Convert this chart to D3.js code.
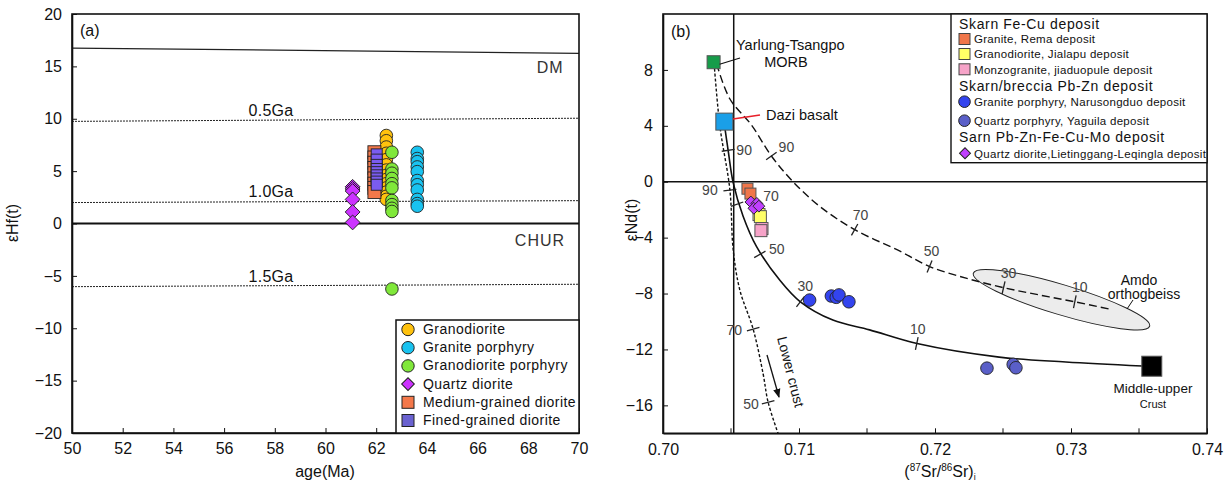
<!DOCTYPE html>
<html><head><meta charset="utf-8">
<script src="https://cdn.jsdelivr.net/npm/d3@7"></script>
<style>
body{margin:0;background:#fff}
text{font-family:"Liberation Sans",Arial,sans-serif;fill:#111}
</style>
</head><body>
<svg width="1230" height="487"></svg>
<script>
// ---------- panel (a): eHf(t) vs age ----------
var ageTicks = [50,52,54,56,58,60,62,64,66,68,70];
var hfTicks = [-20,-15,-10,-5,0,5,10,15,20];

var granodiorite = {age:62.4, hf:[8.4,7.9,7.3,6.7,6.1,5.6,5.1,4.6,4.2,3.8,3.4,3.0,2.6,2.3]};
var granitePorphyry = {age:63.62, hf:[6.8,6.2,5.9,5.4,4.95,4.1,3.7,3.2,2.3,1.9,1.65]};
var granodioritePorphyry = {age:62.62, hf:[6.8,5.2,4.8,4.3,3.8,3.4,2.2,1.8,1.45,1.15,-6.25]};
var quartzDiorite = {age:61.07, hf:[3.5,3.3,3.1,2.3,1.1,0.1]};
var mediumDiorite = {age:61.93, hf:[6.8,6.3,5.8,5.3,4.8,4.3,3.8,3.4,3.0]};
var fineDiorite = {age:62.02, hf:[6.6,6.1,5.6,5.2,4.9,4.6,4.3,4.0,3.7]};

var dmLine = [[50,16.75],[70,16.25]];
var ga05 = [[50,9.75],[70,10.05]];
var ga10 = [[50,2.0],[70,2.18]];
var ga15 = [[50,-6.03],[70,-5.8]];

// ---------- panel (b): eNd(t) vs (87Sr/86Sr)i ----------
var srTicks = [0.70,0.71,0.72,0.73,0.74];
var srMinor = [0.705,0.715,0.725,0.735];
var ndTicks = [-16,-12,-8,-4,0,4,8];

var morb = [0.70372, 8.55];
var dazi = [0.70451, 4.3];
var upperCrust = [0.73594, -13.2];

var rema = [[0.70621,-0.5],[0.70643,-0.85]];
var jialapu = [[0.70706,-2.35],[0.70716,-2.5]];
var jiaduopule = [[0.70728,-3.35],[0.7072,-3.5]];
var narusongduo = [[0.71078,-8.47],[0.71238,-8.18],[0.71274,-8.27],[0.71294,-8.1],[0.71367,-8.59]];
var yaguila = [[0.72382,-13.34],[0.72575,-13.07],[0.72595,-13.31]];
var lietinggang = [[0.70646,-1.45],[0.70690,-1.55],[0.70668,-1.9],[0.70705,-1.75]];

var curveSolid = [[0.7045,4.2],[0.70479,2.25],[0.70516,-0.07],[0.70589,-2.47],[0.70687,-4.63],
  [0.70858,-7.03],[0.7101,-8.59],[0.71249,-9.9],[0.71519,-10.6],[0.71868,-11.58],
  [0.72472,-12.55],[0.72962,-12.9],[0.73524,-13.19]];
var curveDotted = [[0.70376,8.44],[0.70418,4.0],[0.70492,-0.6],[0.70516,-4.87],[0.70565,-7.75],
  [0.70663,-10.55],[0.70736,-13.74],[0.70773,-15.78],[0.70846,-18.0]];
var curveDashed = [[0.70394,8.44],[0.70492,5.92],[0.70651,4.05],[0.70797,1.84],[0.70956,0],
  [0.71152,-1.76],[0.71409,-3.43],[0.71739,-4.95],[0.7196,-6.07],[0.72228,-6.9],
  [0.72504,-7.58],[0.72766,-8.1],[0.73028,-8.59],[0.73285,-9.12]];

var solidMarks = [[0.70479,2.25,"90"],[0.70545,-1.61,"70"],[0.70712,-5.2,"50"],[0.7101,-8.59,"30"],[0.71866,-11.58,"10"]];
var dottedMarks = [[0.70492,-0.6,"90"],[0.70663,-10.55,"70"],[0.70773,-15.78,"50"]];
var dashedMarks = [[0.70797,1.84,"90"],[0.71409,-3.43,"70"],[0.7196,-6.07,"50"],[0.72504,-7.58,"30"],[0.73028,-8.59,"10"]];

var amdo = [[0.72282,-6.55],[0.73578,-10.34]];
var verticalSr = 0.7052;

var svg = d3.select("svg");

// ===== panel (a)
var xa = d3.scaleLinear().domain([50,70]).range([72,579]);
var ya = d3.scaleLinear().domain([-20,20]).range([433,14]);
var ga = svg.append("g");

var lineA = d3.line().x(d => xa(d[0])).y(d => ya(d[1]));
ga.append("path").attr("d", lineA(dmLine)).attr("fill","none").attr("stroke","#222").attr("stroke-width",1.3);
[ga05, ga10, ga15].forEach(function(l) {
  ga.append("path").attr("d", lineA(l)).attr("fill","none").attr("stroke","#222")
    .attr("stroke-width",1).attr("stroke-dasharray","2,1");
});
ga.append("line").attr("x1",xa(50)).attr("x2",xa(70)).attr("y1",ya(0)).attr("y2",ya(0))
  .attr("stroke","#111").attr("stroke-width",2);

var labA = [["DM",68.86,14.4],["CHUR",68.46,-2.15],["0.5Ga",57.85,10.25],["1.0Ga",57.85,2.5],["1.5Ga",57.85,-5.6]];
labA.forEach(function(l) {
  ga.append("text").attr("x",xa(l[1])).attr("y",ya(l[2])).attr("text-anchor","middle")
    .attr("font-size",16).attr("letter-spacing", l[0].length < 5 ? 1 : 0.3)
    .style("fill", l[0].length < 5 ? "#333" : "#111").text(l[0]);
});

function circlesA(s, col) {
  ga.selectAll(null).data(s.hf).enter().append("circle")
    .attr("cx", xa(s.age)).attr("cy", d => ya(d)).attr("r",6.3)
    .attr("fill",col).attr("stroke","#222").attr("stroke-width",0.9);
}
function squaresA(s, col, sz) {
  ga.selectAll(null).data(s.hf).enter().append("rect")
    .attr("x", xa(s.age)-sz/2).attr("y", d => ya(d)-sz/2).attr("width",sz).attr("height",sz)
    .attr("fill",col).attr("stroke","#222").attr("stroke-width",0.9);
}
var diamond = d3.symbol().type(d3.symbolSquare).size(110);
circlesA(granodiorite, "#ffc20e");
circlesA(granodioritePorphyry, "#80e83a");
circlesA(granitePorphyry, "#19c3f0");
squaresA(mediumDiorite, "#f4784a", 13);
squaresA(fineDiorite, "#7a5cf0", 11);
ga.selectAll(null).data(quartzDiorite.hf).enter().append("path").attr("d", diamond)
  .attr("transform", d => "translate(" + xa(quartzDiorite.age) + "," + ya(d) + ") rotate(45)")
  .attr("fill","#cc33ff").attr("stroke","#222").attr("stroke-width",0.9);

// axes a
var axYa = d3.axisLeft(ya).tickValues(hfTicks).tickSizeInner(-5).tickSizeOuter(0).tickPadding(10);
var axXa = d3.axisBottom(xa).tickValues(ageTicks).tickSizeInner(-5).tickSizeOuter(0).tickPadding(10);
ga.append("g").attr("transform","translate(72,0)").call(axYa);
ga.append("g").attr("transform","translate(0,433)").call(axXa);
ga.append("rect").attr("x",72).attr("y",14).attr("width",507).attr("height",419)
  .attr("fill","none").attr("stroke","#111").attr("stroke-width",1.6);
ga.append("text").attr("x",80).attr("y",36).attr("font-size",16).text("(a)");
ga.append("text").attr("transform","translate(18,223) rotate(-90)").attr("text-anchor","middle")
  .attr("font-size",16).text("εHf(t)");
ga.append("text").attr("x",325).attr("y",477).attr("text-anchor","middle").attr("font-size",16).text("age(Ma)");

// legend a
var legA = [["Granodiorite","c","#ffc20e"],["Granite porphyry","c","#19c3f0"],["Granodiorite porphyry","c","#80e83a"],
  ["Quartz diorite","d","#cc33ff"],["Medium-grained diorite","s","#f4784a"],["Fined-grained diorite","s","#6a62d0"]];
var lg = ga.append("g");
lg.append("rect").attr("x",396).attr("y",320).attr("width",183).attr("height",113)
  .attr("fill","#fff").attr("stroke","#111").attr("stroke-width",1.5);
legA.forEach(function(l, i) {
  var cy = 329.5 + i*18.2;
  if (l[1] == "c") lg.append("circle").attr("cx",408).attr("cy",cy).attr("r",6.2).attr("fill",l[2]).attr("stroke","#222");
  else if (l[1] == "s") lg.append("rect").attr("x",402).attr("y",cy-6).attr("width",12).attr("height",12).attr("fill",l[2]).attr("stroke","#222");
  else lg.append("path").attr("d", d3.symbol().type(d3.symbolSquare).size(80)).attr("transform","translate(408,"+cy+") rotate(45)")
    .attr("fill",l[2]).attr("stroke","#222");
  lg.append("text").attr("x",423).attr("y",cy+4.5).attr("font-size",14).attr("letter-spacing",0.45).text(l[0]);
});

// ===== panel (b)
var xb = d3.scaleLinear().domain([0.70,0.74]).range([663,1207]);
var yb = d3.scaleLinear().domain([-18,12]).range([433.3,14]);
var gb = svg.append("g");
gb.append("clipPath").attr("id","cb").append("rect").attr("x",663).attr("y",14).attr("width",544).attr("height",419.3);
var gp = gb.append("g").attr("clip-path","url(#cb)");

gp.append("line").attr("x1",663).attr("x2",1207).attr("y1",yb(0)).attr("y2",yb(0)).attr("stroke","#111").attr("stroke-width",1.5);
gp.append("line").attr("x1",xb(verticalSr)).attr("x2",xb(verticalSr)).attr("y1",14).attr("y2",433).attr("stroke","#111").attr("stroke-width",1.5);

// Amdo ellipse
var e0 = [xb(amdo[0][0]), yb(amdo[0][1])], e1 = [xb(amdo[1][0]), yb(amdo[1][1])];
var ecx = (e0[0]+e1[0])/2, ecy = (e0[1]+e1[1])/2;
var erx = Math.hypot(e1[0]-e0[0], e1[1]-e0[1])/2;
var eang = Math.atan2(e1[1]-e0[1], e1[0]-e0[0])*180/Math.PI;
gp.append("ellipse").attr("cx",ecx).attr("cy",ecy).attr("rx",erx).attr("ry",15)
  .attr("transform","rotate("+eang+","+ecx+","+ecy+")")
  .attr("fill","#ececec").attr("stroke","#222").attr("stroke-width",1);

var lineB = d3.line().x(d => xb(d[0])).y(d => yb(d[1])).curve(d3.curveCatmullRom);
gp.append("path").attr("d", lineB(curveSolid)).attr("fill","none").attr("stroke","#111").attr("stroke-width",1.6);
gp.append("path").attr("d", lineB(curveDotted)).attr("fill","none").attr("stroke","#111").attr("stroke-width",1.4).attr("stroke-dasharray","3,2");
gp.append("path").attr("d", lineB(curveDashed)).attr("fill","none").attr("stroke","#111").attr("stroke-width",1.4).attr("stroke-dasharray","8,4");

function marks(curve, mk, offs) {
  mk.forEach(function(m, i) {
    var px = xb(m[0]), py = yb(m[1]);
    var best = 0, bd = 1e9;
    curve.forEach(function(c, j) { var d = Math.hypot(xb(c[0])-px, yb(c[1])-py); if (d < bd) { bd = d; best = j; } });
    var a = curve[Math.max(best-1,0)], b = curve[Math.min(best+1,curve.length-1)];
    var dx = xb(b[0])-xb(a[0]), dy = yb(b[1])-yb(a[1]), len = Math.hypot(dx,dy);
    var nx = -dy/len*6.5, ny = dx/len*6.5;
    gp.append("line").attr("x1",px-nx).attr("y1",py-ny).attr("x2",px+nx).attr("y2",py+ny)
      .attr("stroke","#222").attr("stroke-width",1.3);
    gb.append("text").attr("x",px+offs[i][0]).attr("y",py+offs[i][1]).attr("text-anchor","middle")
      .attr("font-size",14).style("fill","#444").text(m[2]);
  });
}
marks(curveSolid, solidMarks, [[16,5],[34,-3],[17,0],[5,-11],[1,-10]]);
marks(curveDotted, dottedMarks, [[-20,5],[-19,6],[-17,7]]);
marks(curveDashed, dashedMarks, [[15,-4],[6,-10],[2,-11],[5,-10],[5,-10]]);

// samples b
function sqB(pts, col, sz) {
  gb.selectAll(null).data(pts).enter().append("rect")
    .attr("x", d => xb(d[0])-sz/2).attr("y", d => yb(d[1])-sz/2).attr("width",sz).attr("height",sz)
    .attr("fill",col).attr("stroke","#555").attr("stroke-width",1);
}
function ciB(pts, col) {
  gb.selectAll(null).data(pts).enter().append("circle")
    .attr("cx", d => xb(d[0])).attr("cy", d => yb(d[1])).attr("r",6.3)
    .attr("fill",col).attr("stroke","#222").attr("stroke-width",0.9);
}
sqB([morb], "#169c4a", 13);
sqB([dazi], "#1a9fe8", 17);
sqB([upperCrust], "#000", 20);
sqB(rema, "#f0764a", 11);
sqB(jialapu, "#ffff66", 12);
sqB(jiaduopule, "#f6a3c8", 12);
gb.selectAll(null).data(lietinggang).enter().append("path").attr("d", d3.symbol().type(d3.symbolSquare).size(70))
  .attr("transform", d => "translate(" + xb(d[0]) + "," + yb(d[1]) + ") rotate(45)")
  .attr("fill","#c040ff").attr("stroke","#222").attr("stroke-width",0.9);
ciB(narusongduo, "#3344ee");
ciB(yaguila, "#5a5fc8");

// annotations b
gb.append("line").attr("x1",xb(morb[0])+6).attr("y1",yb(morb[1])+2).attr("x2",740).attr("y2",58).attr("stroke","#111").attr("stroke-width",1.2);
gb.append("text").attr("x",736).attr("y",50).attr("font-size",14.5).text("Yarlung-Tsangpo");
gb.append("text").attr("x",786).attr("y",67).attr("text-anchor","middle").attr("font-size",14.5).text("MORB");
gb.append("line").attr("x1",733).attr("y1",119).attr("x2",760).attr("y2",115).attr("stroke","#e8202a").attr("stroke-width",1.4);
gb.append("text").attr("x",766).attr("y",120).attr("font-size",14.5).text("Dazi basalt");
gb.append("line").attr("x1",1127).attr("y1",309).attr("x2",1133).attr("y2",300).attr("stroke","#111");
gb.append("text").attr("x",1139).attr("y",285).attr("text-anchor","middle").attr("font-size",14).text("Amdo");
gb.append("text").attr("x",1144).attr("y",299).attr("text-anchor","middle").attr("font-size",14).text("orthogbeiss");
gb.append("text").attr("x",1153).attr("y",393).attr("text-anchor","middle").attr("font-size",13.5).text("Middle-upper");
gb.append("text").attr("x",1153).attr("y",408).attr("text-anchor","middle").attr("font-size",11).text("Crust");
gb.append("text").attr("transform","translate(786,373) rotate(75.7)").attr("text-anchor","middle").attr("font-size",14).text("Lower crust");
gb.append("defs").append("marker").attr("id","arr").attr("viewBox","0 0 10 10").attr("refX",9).attr("refY",5)
  .attr("markerWidth",7).attr("markerHeight",7).attr("orient","auto")
  .append("path").attr("d","M0,1 L10,5 L0,9 Z").attr("fill","#111");
gb.append("line").attr("x1",767).attr("y1",355).attr("x2",779).attr("y2",397).attr("stroke","#111").attr("stroke-width",1.3).attr("marker-end","url(#arr)");

// axes b
var axYb = d3.axisLeft(yb).tickValues(ndTicks).tickSizeInner(-5).tickSizeOuter(0).tickPadding(10);
var axXb = d3.axisBottom(xb).tickValues(srTicks).tickFormat(d3.format(".2f")).tickSizeInner(-5).tickSizeOuter(0).tickPadding(10);
gb.append("g").attr("transform","translate(663,0)").call(axYb);
gb.append("g").attr("transform","translate(0,433.3)").call(axXb);
gb.selectAll(null).data(srMinor).enter().append("line").attr("x1",d => xb(d)).attr("x2",d => xb(d))
  .attr("y1",433.3).attr("y2",428.3).attr("stroke","#111");
gb.append("rect").attr("x",663).attr("y",14).attr("width",544).attr("height",419.3)
  .attr("fill","none").attr("stroke","#111").attr("stroke-width",1.6);
gb.append("text").attr("x",671).attr("y",37).attr("font-size",16).text("(b)");
gb.append("text").attr("transform","translate(637,220) rotate(-90)").attr("text-anchor","middle")
  .attr("font-size",16).text("εNd(t)");
var xl = gb.append("text").attr("x",940).attr("y",477).attr("text-anchor","middle").attr("font-size",16);
xl.append("tspan").text("(");
xl.append("tspan").attr("font-size",10).attr("dy",-6).text("87");
xl.append("tspan").attr("dy",6).text("Sr/");
xl.append("tspan").attr("font-size",10).attr("dy",-6).text("86");
xl.append("tspan").attr("dy",6).text("Sr)");
xl.append("tspan").attr("font-size",9).attr("dy",3).text("i");

// legend b
var legB = [["h","Skarn Fe-Cu deposit"],["s","Granite, Rema deposit","#f0764a"],["s","Granodiorite, Jialapu deposit","#ffff66"],
  ["s","Monzogranite, jiaduopule deposit","#f6a3c8"],["h","Skarn/breccia Pb-Zn deposit"],
  ["c","Granite porphyry, Narusongduo deposit","#3344ee"],["c","Quartz porphyry, Yaguila deposit","#5a5fc8"],
  ["h","Sarn Pb-Zn-Fe-Cu-Mo deposit"],["d","Quartz diorite,Lietinggang-Leqingla deposit","#c040ff"]];
var legRows = [24,39,54,69.3,86,101.7,120.7,137.3,153.3];
var lb = gb.append("g");
lb.append("rect").attr("x",951).attr("y",14).attr("width",256).attr("height",148.7)
  .attr("fill","#fff").attr("stroke","#111").attr("stroke-width",1.4);
legB.forEach(function(l, i) {
  var cy = legRows[i];
  if (l[0] == "h") { lb.append("text").attr("x",959).attr("y",cy+5).attr("font-size",14).attr("letter-spacing",0.65).text(l[1]); return; }
  if (l[0] == "s") lb.append("rect").attr("x",959).attr("y",cy-5.5).attr("width",11).attr("height",11).attr("fill",l[2]).attr("stroke","#444");
  else if (l[0] == "c") lb.append("circle").attr("cx",964.5).attr("cy",cy).attr("r",5.8).attr("fill",l[2]).attr("stroke","#222");
  else lb.append("path").attr("d", d3.symbol().type(d3.symbolSquare).size(60)).attr("transform","translate(965,"+cy+") rotate(45)")
    .attr("fill",l[2]).attr("stroke","#222");
  lb.append("text").attr("x",974).attr("y",cy+4.2).attr("font-size",11.5).attr("letter-spacing",0.3).text(l[1]);
});

svg.selectAll(".tick text").attr("font-size",16).style("font-family","'Liberation Sans',Arial,sans-serif").style("fill","#111");
svg.selectAll(".domain").attr("stroke","#111").attr("stroke-width",1.6);
svg.selectAll(".tick line").attr("stroke","#111");
</script>
</body></html>
